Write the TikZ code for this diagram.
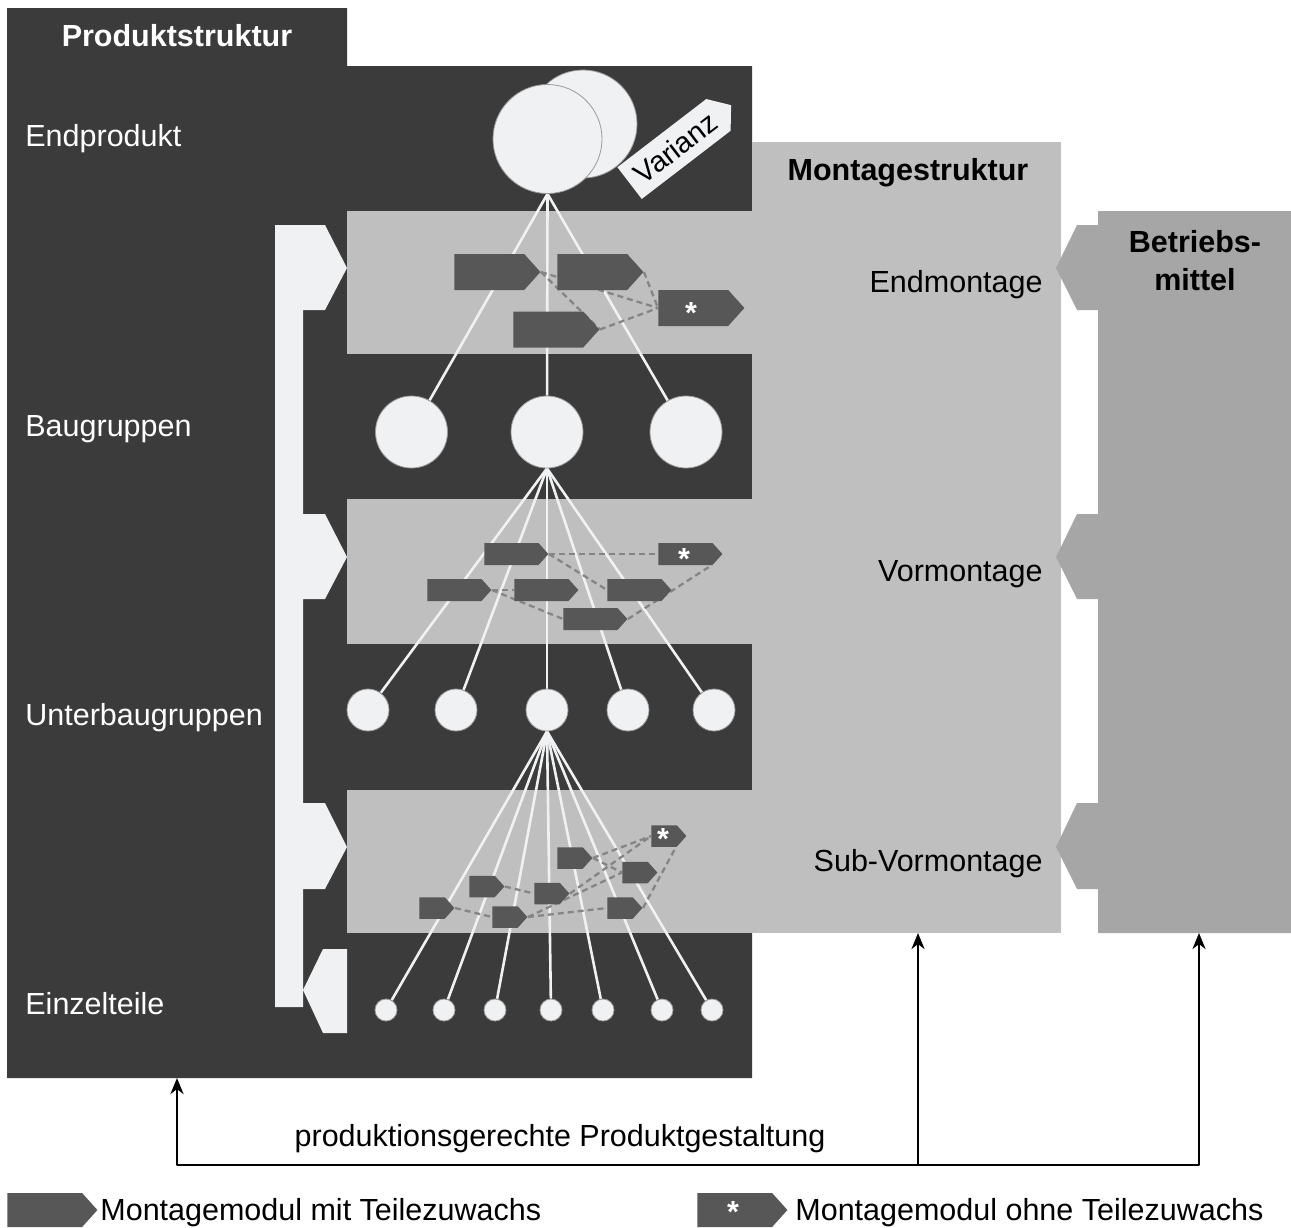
\documentclass[tikz,border=0pt]{standalone}
\usepackage{fontspec}
\setmainfont{Liberation Sans}
\usetikzlibrary{shapes.symbols,arrows.meta,calc}
\definecolor{dunkel}{HTML}{3B3B3B}
\definecolor{hell}{HTML}{BFBFBF}
\definecolor{mittel}{HTML}{A6A6A6}
\definecolor{weiss}{HTML}{F0F1F3}
\definecolor{modulgrau}{HTML}{575757}
\definecolor{strichgrau}{HTML}{858585}
\definecolor{kreisrand}{HTML}{9A9A9A}
\pgfdeclarelayer{flaechen}
\pgfdeclarelayer{linien}
\pgfsetlayers{flaechen,linien,main}
\begin{document}
\begin{tikzpicture}[x=0.5pt,y=-0.5pt,
  txt/.style={font=\fontsize{15.25}{18}\selectfont, inner sep=0, anchor=base},
  hdr/.style={font=\fontsize{15.25}{18}\selectfont\bfseries, inner sep=0, anchor=base},
  kreis/.style={circle, fill=weiss, draw=kreisrand, line width=0.4pt, inner sep=0},
  modul/.style={signal, signal to=east, signal pointer angle=96, fill=modulgrau, inner sep=0, anchor=west},
  modgross/.style={modul, minimum width=43pt, minimum height=18pt},
  modmittel/.style={modul, minimum width=32pt, minimum height=11pt},
  modklein/.style={modul, minimum width=17.5pt, minimum height=10.75pt},
  stern/.style={font=\fontsize{15.25}{18}\selectfont\bfseries, text=white, inner sep=0, anchor=base},
  ast/.style={draw=weiss, line width=1.3pt},
  folge/.style={draw=strichgrau, dash pattern=on 3pt off 2pt, line width=1.15pt},
  pfeil/.style={draw=black, line width=1.3pt, line join=round, -{Stealth[length=8pt,width=6.5pt,inset=2.5pt]}}
]
\useasboundingbox (0,0) rectangle (1291,1227);

% ---------- areas: product structure, assembly structure, equipment ----------
\begin{pgfonlayer}{flaechen}
  \fill[dunkel] (7,8) -- (347,8) -- (347,66) -- (752,66) -- (752,1078) -- (7,1078) -- cycle;
  \fill[hell] (752,142) rectangle (1061,933);
  \fill[hell] (347,211) rectangle (753,354);
  \fill[hell] (347,499) rectangle (753,644);
  \fill[hell] (347,790) rectangle (753,933);
  \fill[mittel] (1291,211) -- (1098,211) -- (1098,225) -- (1077,225) -- (1056,268) -- (1077,310) -- (1098,310)
     -- (1098,514) -- (1077,514) -- (1056,557) -- (1077,599) -- (1098,599)
     -- (1098,803) -- (1077,803) -- (1056,847) -- (1077,889) -- (1098,889)
     -- (1098,933) -- (1291,933) -- cycle;
  % bracket with arrows into the assembly levels
  \fill[weiss] (275,225) -- (325,225) -- (347,268) -- (325,310) -- (303,310)
     -- (303,514) -- (325,514) -- (347,557) -- (325,599) -- (303,599)
     -- (303,803) -- (325,803) -- (347,847) -- (325,889) -- (303,889)
     -- (303,1007) -- (275,1007) -- cycle;
  \fill[weiss] (347,949) -- (323,949) -- (303,990) -- (323,1033) -- (347,1033) -- cycle;
\end{pgfonlayer}

% ---------- headings and level labels ----------
\node[hdr, text=white] (tps) at (177,46) {Produktstruktur};
\node[txt, text=white, anchor=base west] (lep) at (25,146) {Endprodukt};
\node[txt, text=white, anchor=base west] (lbg) at (25,436) {Baugruppen};
\node[txt, text=white, anchor=base west] (lub) at (25,725) {Unterbaugruppen};
\node[txt, text=white, anchor=base west] (let) at (25,1014) {Einzelteile};
\node[hdr] (tms) at (908,180) {Montagestruktur};
\node[txt, anchor=base east] (lem) at (1043,292) {Endmontage};
\node[txt, anchor=base east] (lvm) at (1043,581) {Vormontage};
\node[txt, anchor=base east] (lsv) at (1043,871) {Sub-Vormontage};
\node[hdr] (tbm1) at (1195,252) {Betriebs-};
\node[hdr] (tbm2) at (1195,290) {mittel};

% ---------- end product with variant tag ----------
\node[kreis, minimum size=54pt] (epb) at (583,124) {};
\begin{scope}[shift={(674,149)}, rotate=37.5]
  \fill[weiss] (-56,-20) -- (56,-20) -- (72,0) -- (56,20) -- (-56,20) -- cycle;
  \node[font=\fontsize{14.5}{17}\selectfont, inner sep=0, rotate=37.5] (var) at (2,0) {Varianz};
\end{scope}
\node[kreis, minimum size=54.5pt] (ep) at (547.5,139) {};

% ---------- assemblies, sub-assemblies, single parts ----------
\node[kreis, minimum size=36pt] (bg1) at (411.5,432) {};
\node[kreis, minimum size=36pt] (bg2) at (547,432) {};
\node[kreis, minimum size=36pt] (bg3) at (686,432) {};
\node[kreis, minimum size=21pt] (ub1) at (368,710) {};
\node[kreis, minimum size=21pt] (ub2) at (456,710) {};
\node[kreis, minimum size=21pt] (ub3) at (547,710) {};
\node[kreis, minimum size=21pt] (ub4) at (628,710) {};
\node[kreis, minimum size=21pt] (ub5) at (714,710) {};
\foreach \n/\x in {1/386,2/444,3/495,4/551,5/603,6/662,7/712}
  \node[kreis, minimum size=11pt] (et\n) at (\x,1010) {};

% ---------- assembly modules: final assembly ----------
\node[modgross] (m1) at (454,272) {};
\node[modgross] (m2) at (557,272) {};
\node[modgross] (m3) at (513,329.5) {};
\node[modgross] (ms) at (658,308) {};
\node[stern] (sm) at (691,323) {*};

% ---------- assembly modules: pre-assembly ----------
\node[modmittel] (n1) at (484,554) {};
\node[modmittel] (ns) at (658,554) {};
\node[modmittel] (n2) at (427,590) {};
\node[modmittel] (n3) at (514,590) {};
\node[modmittel] (n4) at (607,590) {};
\node[modmittel] (n5) at (563,619) {};
\node[stern] (sn) at (684,569) {*};

% ---------- assembly modules: sub-pre-assembly ----------
\node[modklein] (ka) at (651,836) {};
\node[modklein] (kb) at (557,858) {};
\node[modklein] (kc) at (622,872.5) {};
\node[modklein] (kd) at (469,886.5) {};
\node[modklein] (ke) at (534,893.5) {};
\node[modklein] (kf) at (419,908) {};
\node[modklein] (kg) at (492,917) {};
\node[modklein] (kh) at (607,908) {};
\node[stern] (sk) at (663,849) {*};

% ---------- structure lines and module sequences ----------
\begin{pgfonlayer}{linien}
  \foreach \z in {bg1,bg2,bg3} \draw[ast] (ep.south) -- (\z);
  \foreach \z in {ub1,ub2,ub3,ub4,ub5} \draw[ast] (bg2.south) -- (\z);
  \foreach \z in {et1,et2,et3,et4,et5,et6,et7} \draw[ast] (ub3.south) -- (\z);
  % final assembly
  \draw[folge] (m1.east) -- (ms.west);
  \draw[folge] (m1.east) -- (m3.east);
  \draw[folge] (m2.east) -- (ms.west);
  \draw[folge] (m3.east) -- (ms.west);
  % pre-assembly
  \draw[folge] (n1.east) -- (ns.west);
  \draw[folge] (n1.east) -- (n4.west);
  \draw[folge] (n2.east) -- (n3.west);
  \draw[folge] (n2.east) -- (n5.west);
  \draw[folge] (n5.east) -- ($(ns.west)+(54,11)$);
  % sub-pre-assembly
  \draw[folge] (kb.east) -- (ka.west);
  \draw[folge] (kb.east) -- (kc.west);
  \draw[folge] (kd.east) -- (ke.west);
  \draw[folge] (ke.east) -- (ka.west);
  \draw[folge] (kf.east) -- (kg.west);
  \draw[folge] (kg.east) -- (kc.west);
  \draw[folge] (kg.east) -- (kh.west);
  \draw[folge] (kh.east) -- ($(ka.west)+(25,11)$);
\end{pgfonlayer}

% ---------- feedback: design for production ----------
\coordinate (z1) at (177,1078);
\coordinate (z2) at (918,933);
\coordinate (z3) at (1199,933);
\coordinate (j1) at (177,1165);
\coordinate (j2) at (918,1165);
\coordinate (j3) at (1199,1165);
\draw[pfeil] (j2) -- (j1) -- (z1);
\draw[pfeil] (j2) -- (z2);
\draw[pfeil] (j2) -- (j3) -- (z3);
\node[txt, anchor=center] (pg) at (560,1139) {produktionsgerechte Produktgestaltung};

% ---------- legend ----------
\node[modul, minimum width=45pt, minimum height=17pt] (lg1) at (7,1210) {};
\node[txt, anchor=base west] (lt1) at (100,1220) {Montagemodul mit Teilezuwachs};
\node[modul, minimum width=45pt, minimum height=17pt] (lg2) at (697,1210) {};
\node[stern] (ls) at (733,1222) {*};
\node[txt, anchor=base west] (lt2) at (795,1220) {Montagemodul ohne Teilezuwachs};
\end{tikzpicture}
\end{document}
